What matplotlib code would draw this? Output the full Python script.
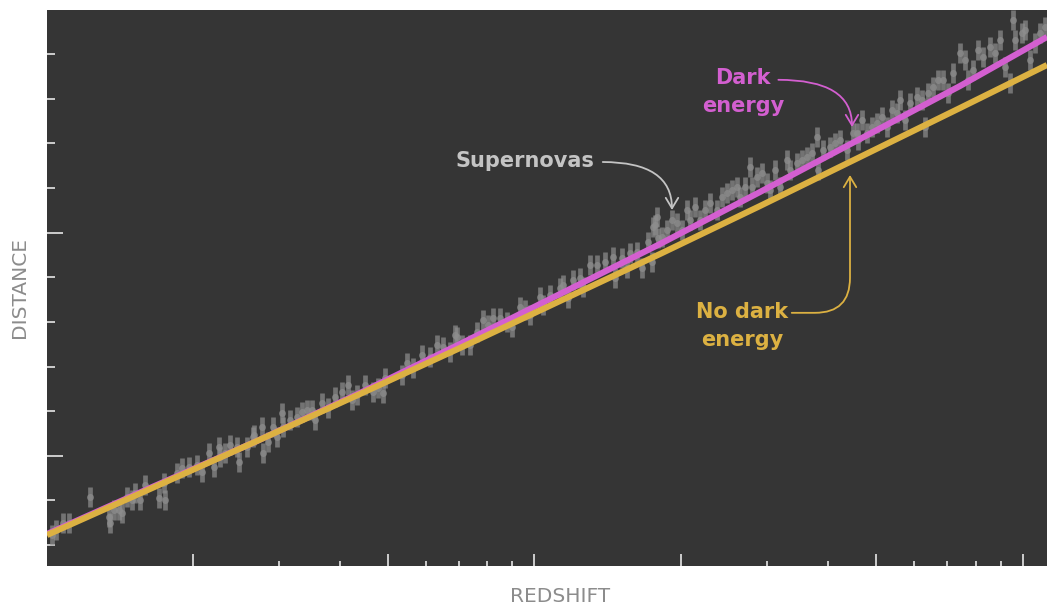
import numpy as np
import matplotlib
matplotlib.use('Agg')
import matplotlib.pyplot as plt

# model curves (arbitrary units)
model_x=	[0, 103, 210, 313, 413, 513, 613, 713, 813, 913, 1000]
no_dark_y=	[31, 77, 125, 172, 218, 265, 312, 360, 409, 458, 501]
dark_y=		[32, 78, 125, 173, 222, 272, 322, 374, 427, 480, 529]

# supernova measurements
sn_x= [5, 9, 16, 22, 43, 62, 63, 67, 72, 75, 80, 85, 88, 93, 98, 112, 117, 118, 130, 135,
	142, 150, 155, 162, 167, 172, 173, 178, 183, 192, 190, 200, 207,
	206, 215, 216, 221, 226, 230, 235, 236, 243, 250, 255, 260, 265, 268, 275, 281, 288, 295,
	301, 305, 310, 318, 326, 331, 336, 338, 355, 360, 366, 375, 383, 390, 396, 403, 410,
	408, 415, 423, 430, 436, 441, 446, 453, 460, 465, 473, 478, 483, 493, 496, 503, 513, 516,
	521, 526, 533, 536, 543, 550, 558, 566, 568, 575, 580, 583, 590, 595, 601, 605, 608, 611,
	606, 610, 615, 620, 625, 630, 635, 640, 643, 648, 653, 658, 663, 670, 675, 680, 685, 690,
	693, 698, 703, 705, 710, 715, 720, 723, 728, 733, 740, 743, 750, 755, 760, 765, 770, 771,
	776, 783, 788, 793, 800, 806, 811,
	810, 815, 820, 825, 830, 835, 840, 845, 850, 853, 858, 863, 870, 875, 878, 881, 886, 891,
	896, 901, 906, 913, 918, 921, 926, 931, 936, 943, 948, 953, 958, 963, 966, 968, 975, 978,
	983, 988, 993, 998]
sn_y= [31, 36, 43, 43, 69, 49, 43, 56, 56, 53, 69, 66, 73, 66, 81, 68, 83, 66, 93, 98,
	99, 101, 94, 113, 99, 119, 109, 113, 121, 104, 119, 119, 131,
	129, 139, 113, 124, 139, 129, 153, 139, 146, 149, 154, 156, 156, 146, 163, 158, 169, 174,
	181, 166, 171, 181, 174, 178, 173, 188, 191, 203, 198, 211, 209, 221, 219, 214, 229,
	231, 221, 221, 234, 246, 241, 248, 248, 244, 239, 259, 256, 251, 269, 261, 271, 278, 281,
	268, 286, 288, 279, 301, 301, 304, 309, 288, 308, 298, 313, 314, 298, 324, 304, 341, 328,
	339, 349, 329, 336, 346, 343, 336, 356, 346, 359, 346, 356, 363, 356, 369, 373, 376, 379,
	369, 379, 399, 379, 389, 393, 383, 376, 396, 379, 406, 396, 403, 406, 409, 413, 429, 396,
	416, 419, 423, 426, 416, 433, 426,
	433, 446, 433, 439, 443, 449, 439, 456, 453, 466, 446, 463, 469, 466, 439, 473, 479, 486,
	486, 473, 493, 513, 506, 486, 496, 516, 509, 519, 513, 526, 499, 483, 546, 526, 533, 536,
	506, 523, 533, 539]

# axis ticks (no tick labels in the original)
x_major=	[146, 341, 487, 634, 829, 976]
x_minor=	[232, 293, 379, 412, 440, 465, 720, 781, 867, 900, 929, 954]
y_major=	[110, 333]
y_minor=	[21, 66, 155, 199, 244, 289, 378, 423, 467, 512]

BG=		'#353535'
GRAY=		'#8c8c8c'
PINK=		'#d35fd0'
GOLD=		'#dcb142'
TICK=		'#e6e6e6'

def main():
	fig= plt.figure(figsize=(10.47, 6.06), dpi=100)
	fig.patch.set_facecolor('white')
	ax= fig.add_axes([47/1047, 40/606, 1000/1047, 556/606])
	ax.set_facecolor(BG)
	for s in ax.spines.values():
		s.set_visible(False)

	ax.errorbar(sn_x, sn_y, yerr=10, fmt='o', ms=5, mew=0, elinewidth=3.4, capsize=0,
	            color='#8e8e8e', alpha=0.7, zorder=2)

	ax.plot(model_x, dark_y, color=PINK, lw=4.4, solid_capstyle='butt', zorder=3)
	ax.plot(model_x, no_dark_y, color=GOLD, lw=4.4, solid_capstyle='butt', zorder=4)

	ax.set_xlim(0, 1000)
	ax.set_ylim(0, 556)

	ax.set_xticks(x_major)
	ax.set_xticks(x_minor, minor=True)
	ax.set_yticks(y_major)
	ax.set_yticks(y_minor, minor=True)
	ax.tick_params(which='both', direction='in', colors=TICK, width=1.2,
	               labelbottom=False, labelleft=False)
	ax.tick_params(axis='x', which='major', length=8.6)
	ax.tick_params(axis='x', which='minor', length=3.6)
	ax.tick_params(axis='y', which='major', length=11.5)
	ax.tick_params(axis='y', which='minor', length=5.8)

	# annotations
	ax.annotate('Supernovas', xy=(625, 356), xytext=(478, 405), color='#c4c4c4',
	            fontsize=15, fontweight='bold', ha='center', va='center', zorder=5,
	            arrowprops=dict(arrowstyle='->,head_length=0.5,head_width=0.3', color='#c4c4c4', lw=1.3,
	                            shrinkA=0, shrinkB=0, patchA=None,
	                            connectionstyle='angle3,angleA=0,angleB=90',
	                            relpos=(1.06, 0.45)))
	ax.annotate('Dark\nenergy', xy=(805, 439), xytext=(696, 474), color=PINK,
	            fontsize=15, fontweight='bold', ha='center', va='center', linespacing=1.55,
	            multialignment='center', zorder=5,
	            arrowprops=dict(arrowstyle='->,head_length=0.5,head_width=0.3', color=PINK, lw=1.3,
	                            shrinkA=0, shrinkB=0, patchA=None,
	                            connectionstyle='angle3,angleA=0,angleB=90',
	                            relpos=(0.93, 0.75)))
	ax.annotate('No dark\nenergy', xy=(803, 391), xytext=(695, 240), color=GOLD,
	            fontsize=15, fontweight='bold', ha='center', va='center', linespacing=1.55,
	            multialignment='center', zorder=5,
	            arrowprops=dict(arrowstyle='->,head_length=0.5,head_width=0.3', color=GOLD, lw=1.3,
	                            shrinkA=0, shrinkB=0, patchA=None,
	                            connectionstyle='angle,angleA=0,angleB=90,rad=35',
	                            relpos=(1.04, 0.77)))

	fig.text(560/1047, 1-597/606, 'REDSHIFT', color=GRAY, fontsize=14.5,
	         ha='center', va='center')
	fig.text(20/1047, 1-288/606, 'DISTANCE', color=GRAY, fontsize=14.5,
	         ha='center', va='center', rotation=90)

	fig.savefig('out.png', dpi=100, facecolor='white')

if __name__=='__main__':
	main()
